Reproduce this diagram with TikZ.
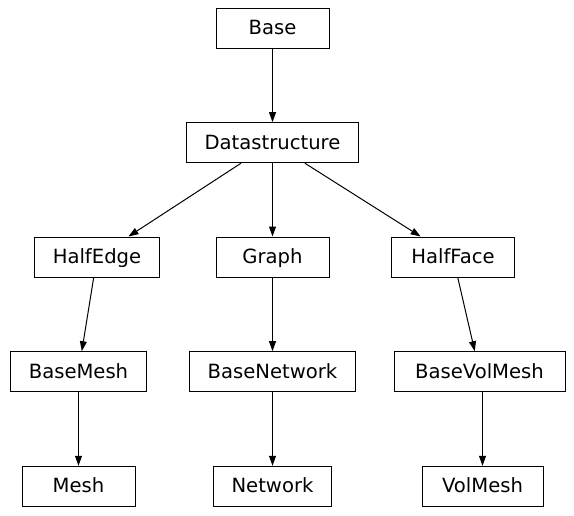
\documentclass[tikz,border=0pt]{standalone}
\usepackage{fontspec}
\setmainfont{DejaVu Sans}
\usetikzlibrary{arrows.meta}

\begin{document}
\begin{tikzpicture}[x=0.75pt, y=-0.75pt,
        cls/.style={draw, line width=0.75pt, rectangle, minimum width=84.75pt, minimum height=30pt,
            inner xsep=13.5pt, text height=12.8pt, text depth=3.2pt, font=\fontsize{14.7}{17}\selectfont},
        inh/.style={-{Triangle[length=7.5pt, width=5.2pt]}, line width=0.75pt}]
        \useasboundingbox (0,0) rectangle (574,515);
        \node[cls](Base) at (272.5,28)  {Base};
        \node[cls](Datastructure) at (272.5,142.7)  {Datastructure};
        \node[cls](HalfEdge) at (97,257)  {HalfEdge};
        \node[cls](Graph) at (272.5,257)  {Graph};
        \node[cls, minimum width=92.5pt](HalfFace) at (453,257)  {HalfFace};
        \node[cls](BaseMesh) at (78.5,371.7)  {BaseMesh};
        \node[cls](BaseNetwork) at (272.5,371.7)  {BaseNetwork};
        \node[cls, minimum width=128.25pt](BaseVolMesh) at (479.5,371.7)  {BaseVolMesh};
        \node[cls](Mesh) at (78.5,486.3)  {Mesh};
        \node[cls](Network) at (272.5,486.3)  {Network};
        \node[cls, minimum width=90.75pt](VolMesh) at (482.5,486.3)  {VolMesh};
        \path
            (Base) edge [inh] (Datastructure)
            (Datastructure)
                edge [inh] (HalfEdge)
                edge [inh] (Graph)
                edge [inh] (HalfFace)
            (HalfEdge) edge [inh] (BaseMesh)
            (Graph) edge [inh] (BaseNetwork)
            (HalfFace) edge [inh] (BaseVolMesh)
            (BaseMesh) edge [inh] (Mesh)
            (BaseNetwork) edge [inh] (Network)
            (VolMesh |- BaseVolMesh.south) edge [inh] (VolMesh)
            ;
    \end{tikzpicture}
\end{document}
